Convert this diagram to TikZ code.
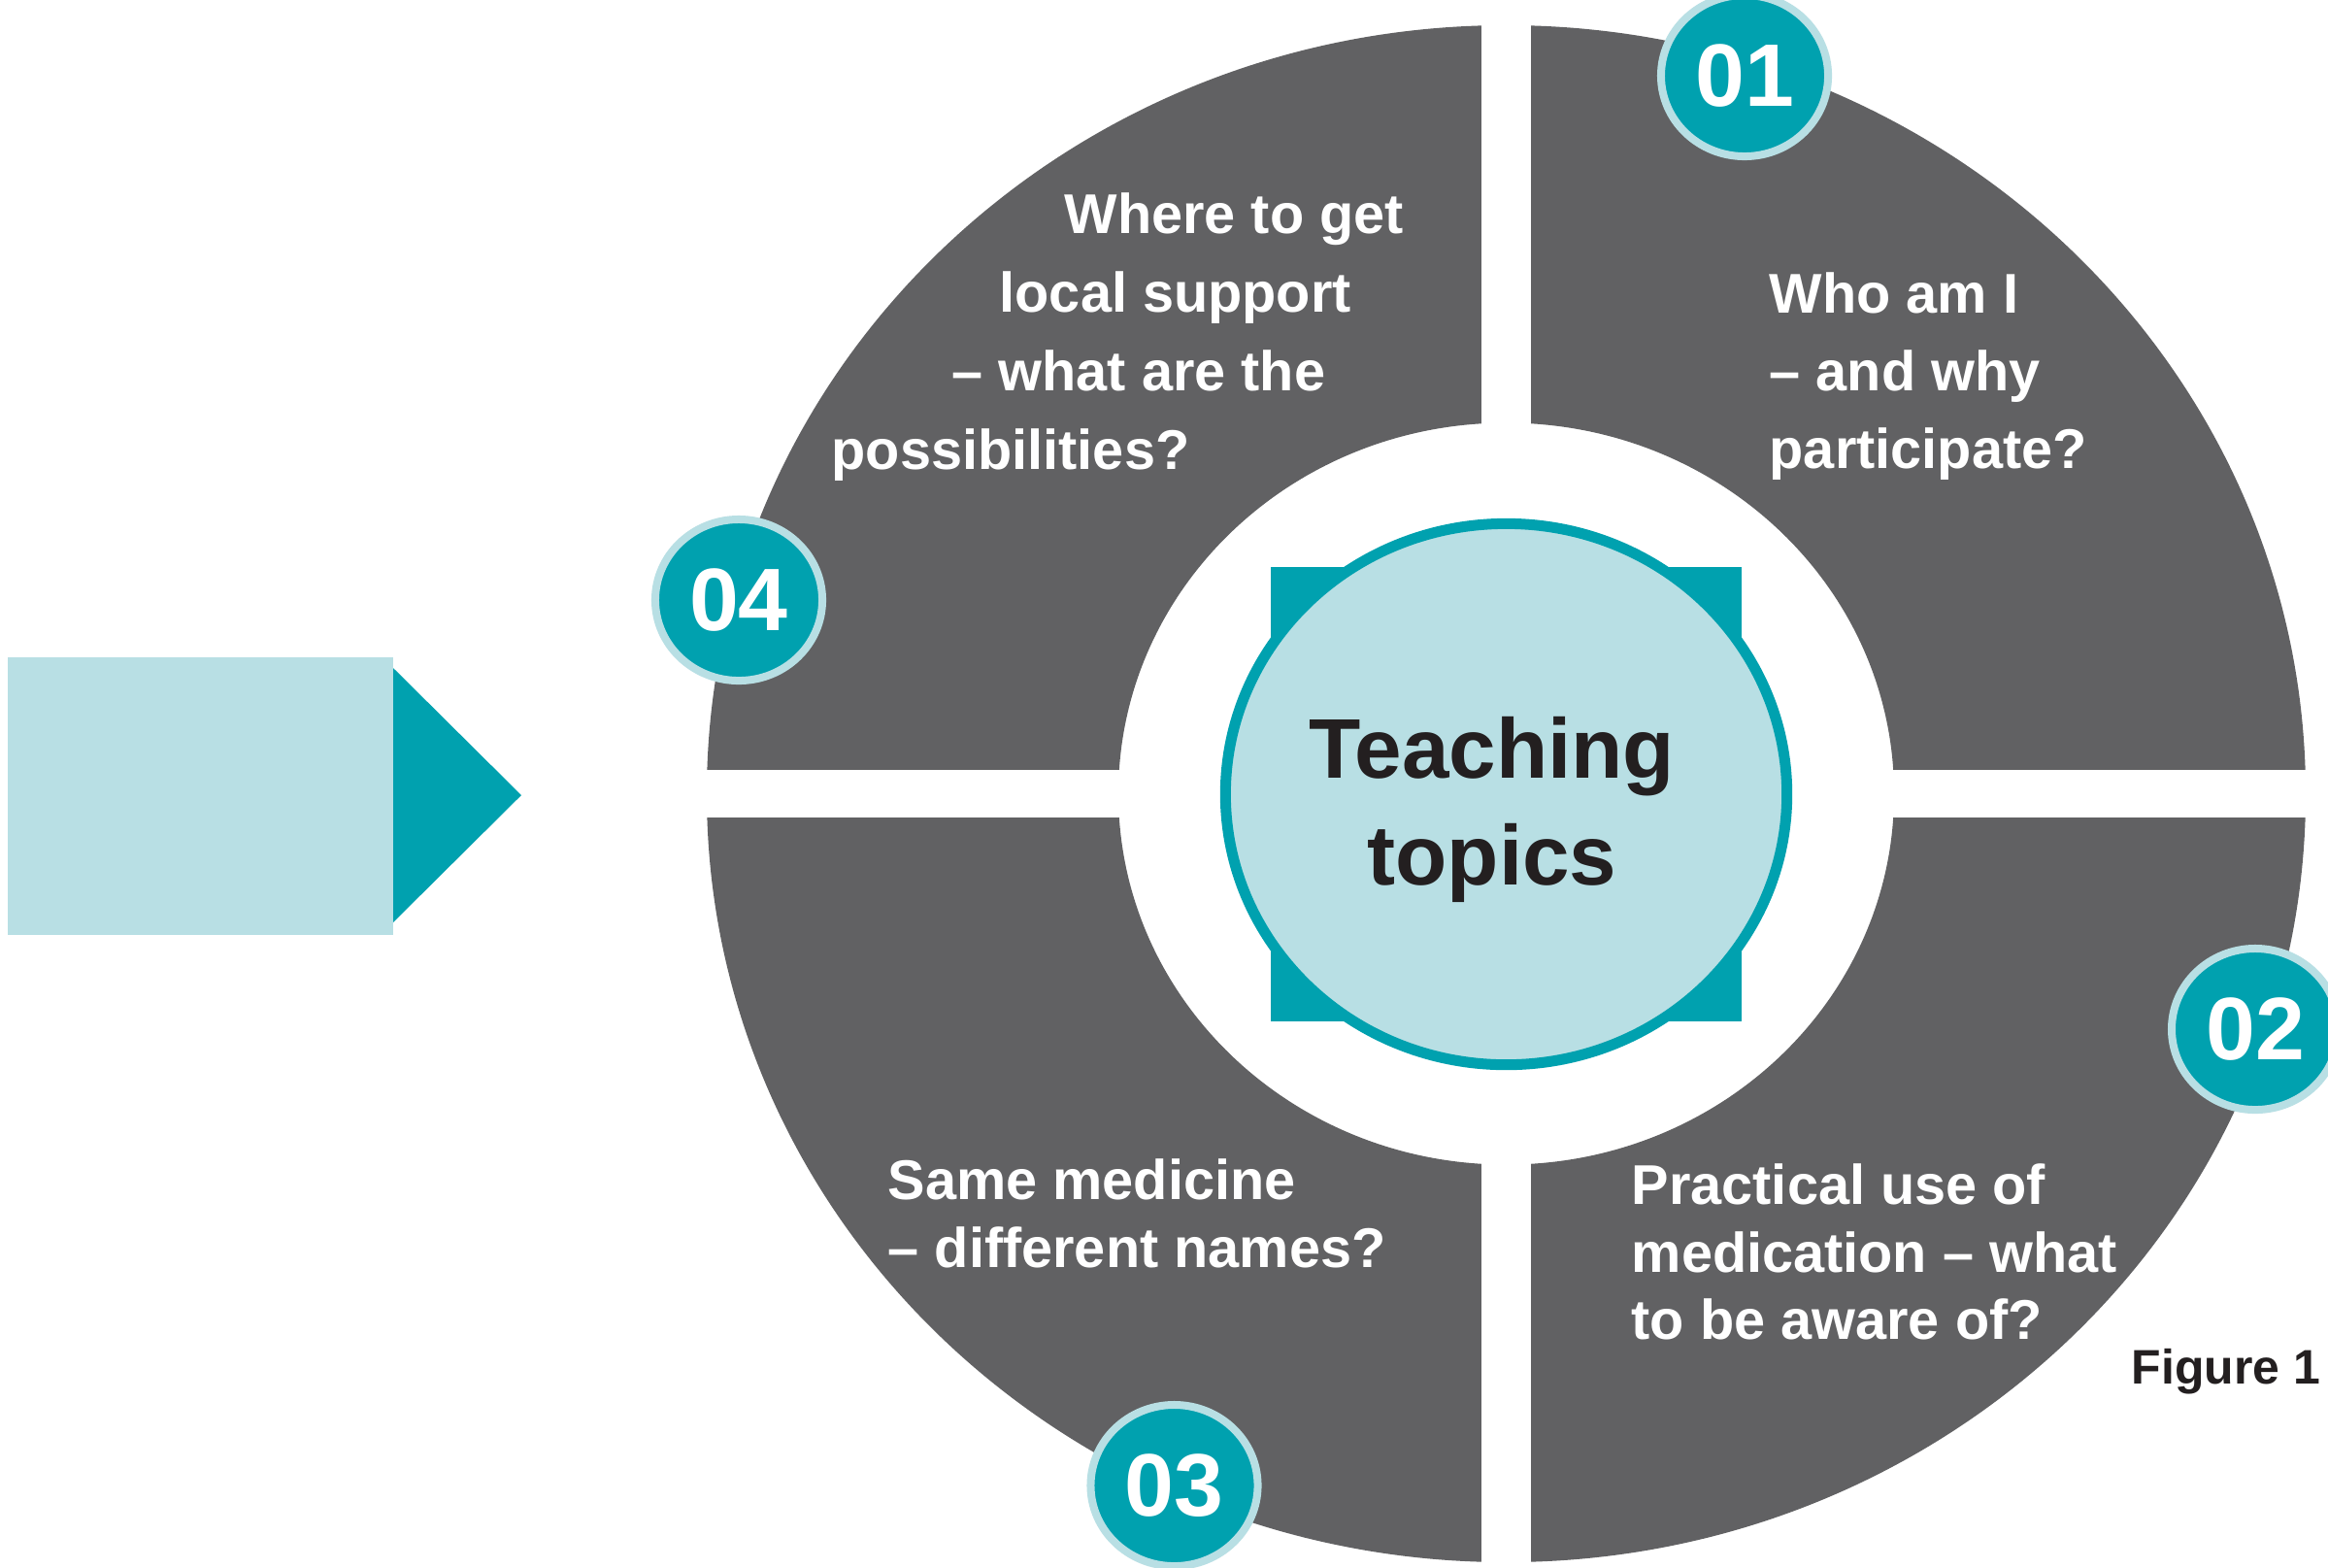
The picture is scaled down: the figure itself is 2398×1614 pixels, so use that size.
\documentclass[tikz,border=0pt]{standalone}
\usepackage{fontspec}
\setmainfont{Liberation Sans}
\usetikzlibrary{shapes.geometric}
\definecolor{ringgray}{HTML}{616163}
\definecolor{tealc}{HTML}{00A1AF}
\definecolor{lightb}{HTML}{B8DFE4}
\definecolor{darktext}{HTML}{231F20}
\begin{document}
\begin{tikzpicture}[x=0.01cm,y=-0.01cm,
  badge/.style={ellipse, fill=tealc, draw=lightb, line width=0.08cm, minimum width=1.72cm, minimum height=1.66cm, inner sep=0pt, text=white, font=\bfseries\fontsize{26}{30}\selectfont},
  qtext/.style={anchor=base west, inner sep=0pt, text=white, font=\bfseries\fontsize{16.4}{20}\selectfont},
  ttext/.style={anchor=base, inner sep=0pt, text=darktext, font=\bfseries\fontsize{24.8}{30}\selectfont},
]
\useasboundingbox (0,0) rectangle (2398,1614);
\fill[white] (0,0) rectangle (2398,1614);
% ring of four quadrants
\fill[ringgray, even odd rule] (1551.5,817.5) ellipse [x radius=823.5, y radius=791.5]
      (1551.5,817.5) ellipse [x radius=399.5, y radius=382];
\fill[white] (700,793) rectangle (2400,842);
\fill[white] (1526,0) rectangle (1577,1614);
% hub
\fill[tealc] (1309,584) rectangle (1794,1052);
\node[ellipse, fill=lightb, draw=tealc, line width=0.11cm, minimum width=5.78cm, minimum height=5.57cm, inner sep=0pt] (hub) at (1551.5,818) {};
\node[ttext] (t1) at (1537,801) {Teaching};
\node[ttext] (t2) at (1537,911) {topics};
% left arrow
\fill[lightb] (8,677) rectangle (405,963);
\fill[tealc] (405,688) -- (537,819) -- (405,950) -- cycle;
% quadrant texts
\node[qtext] (q1a) at (1822,322) {Who am I};
\node[qtext] (q1b) at (1822,402) {– and why};
\node[qtext] (q1c) at (1822,482) {participate?};
\node[qtext] (q4a) at (1096,240) {Where to get};
\node[qtext] (q4b) at (1029,321) {local support};
\node[qtext] (q4c) at (980,402) {– what are the};
\node[qtext] (q4d) at (856,483) {possibilities?};
\node[qtext] (q3a) at (914,1235) {Same medicine};
\node[qtext] (q3b) at (914,1305) {– different names?};
\node[qtext] (q2a) at (1680,1240) {Practical use of};
\node[qtext] (q2b) at (1680,1310) {medication – what};
\node[qtext] (q2c) at (1680,1379) {to be aware of?};
% badges
\node[badge] (b1) at (1797,78) {01};
\node[badge] (b2) at (2323,1060) {02};
\node[badge] (b3) at (1209.5,1530) {03};
\node[badge] (b4) at (761,618) {04};
% caption
\node[anchor=base west, inner sep=0pt, text=darktext, font=\bfseries\fontsize{14.2}{17}\selectfont] (fig) at (2195,1425) {Figure 1};
\end{tikzpicture}
\end{document}
